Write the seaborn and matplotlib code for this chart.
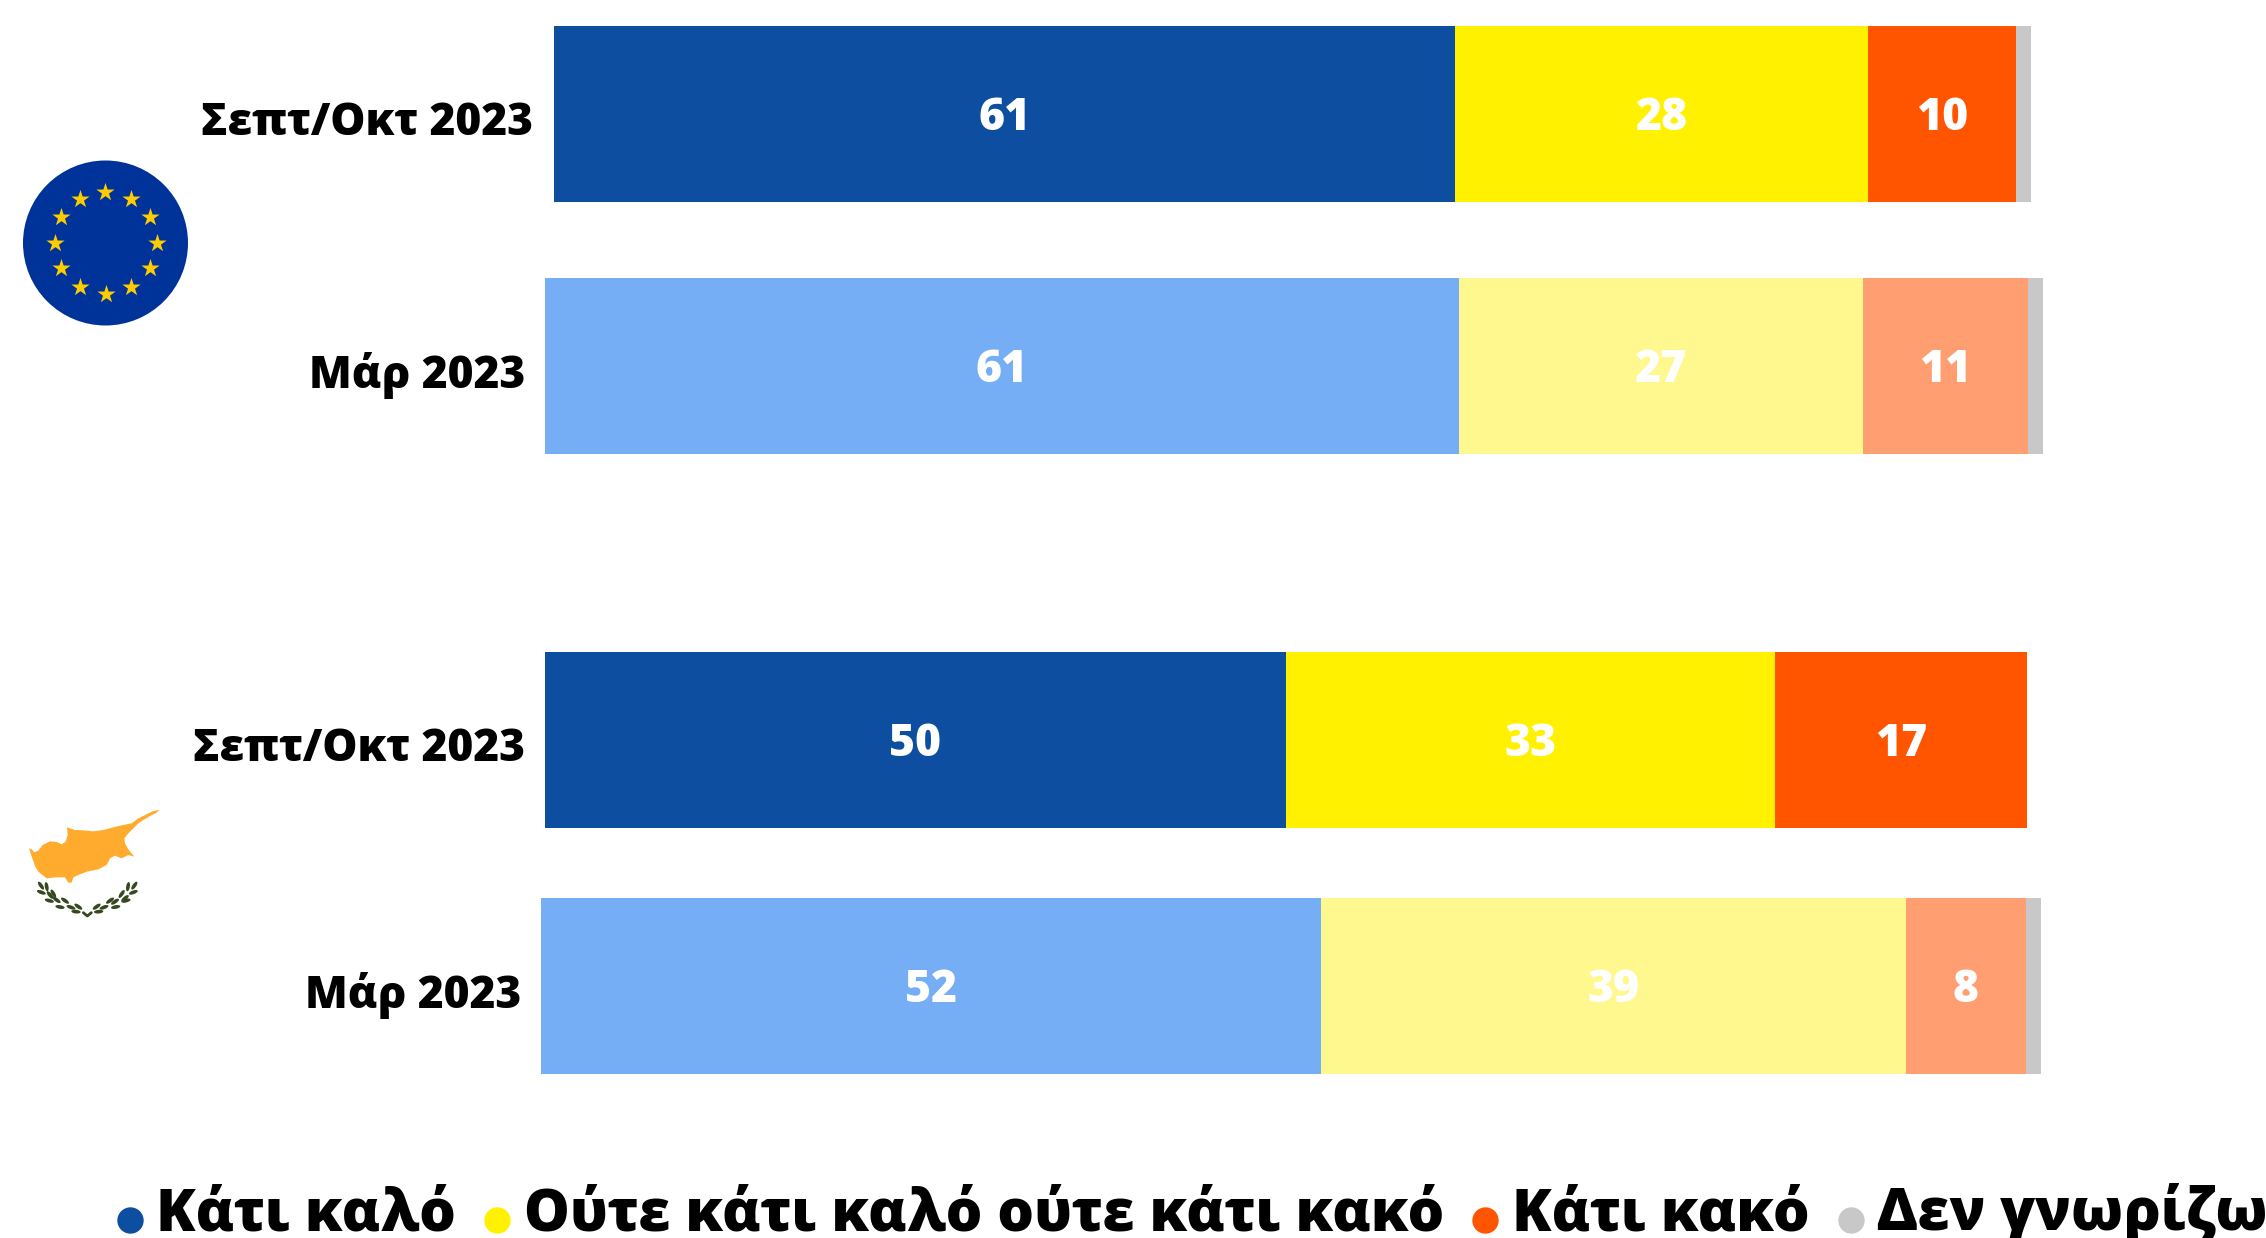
import numpy as np
import pandas as pd
import matplotlib
matplotlib.use("Agg")
import matplotlib.pyplot as plt
import seaborn as sns
from matplotlib.lines import Line2D
from matplotlib.patches import Circle, Ellipse, Polygon
from matplotlib.transforms import ScaledTranslation

# data, top bar to bottom bar
periods = ['Σεπτ/Οκτ 2023', 'Μάρ 2023', 'Σεπτ/Οκτ 2023', 'Μάρ 2023']
good = [61, 61, 50, 52]
neutral = [28, 27, 33, 39]
bad = [10, 11, 17, 8]
dont_know = [1, 1, 0, 1]
legend_labels = ['Κάτι καλό', 'Ούτε κάτι καλό ούτε κάτι κακό', 'Κάτι κακό', 'Δεν γνωρίζω']

# colours: [recent wave, March wave]
blues = ['#0D4EA1', '#75AEF5']
yellows = ['#FFF100', '#FFF88F']
oranges = ['#FF5500', '#FF9E71']
grey = '#C8C8C8'

W, H = 2266, 1238
sns.set_theme(style='white')
plt.rcParams['font.family'] = ['Open Sans', 'DejaVu Sans']

fig = plt.figure(figsize=(W / 100, H / 100), dpi=100, facecolor='white')


def px_axes(left, top, right, bottom):
    return fig.add_axes([left / W, 1 - bottom / H, (right - left) / W, (bottom - top) / H])


# every bar has its own slightly different extent in the original
bar_left = [553.5, 545, 545, 541]
bar_right = [2031, 2043, 2027, 2041]
bar_top = [26, 278, 652, 898]
bar_h = 176

for i, period in enumerate(periods):
    ax = px_axes(bar_left[i], bar_top[i], bar_right[i], bar_top[i] + bar_h)
    wave = i % 2
    df = pd.DataFrame({'period': [period],
                       'good': [good[i]], 'neutral': [neutral[i]],
                       'bad': [bad[i]], 'dk': [dont_know[i]]})
    left = 0
    for col, c in zip(['good', 'neutral', 'bad', 'dk'],
                      [blues[wave], yellows[wave], oranges[wave], grey]):
        sns.barplot(data=df, x=col, y='period', color=c, width=1, left=[left],
                    saturation=1, errorbar=None, ax=ax, linewidth=0)
        if col != 'dk':
            for t in ax.bar_label(ax.containers[-1], labels=[str(df[col][0])], label_type='center',
                                  color='white', fontsize=32, fontweight=800):
                t.xyann = (0, -3)
        left += df[col][0]
    ax.set_xlim(0, 100)
    ax.set_ylim(0.5, -0.5)
    ax.set_xlabel('')
    ax.set_ylabel('')
    ax.set_xticks([])
    ax.tick_params(axis='y', length=0, pad=14.4)
    for lab in ax.get_yticklabels():
        lab.set_fontsize(31.9)
        lab.set_fontweight(800)
        lab.set_color('black')
        lab.set_transform(lab.get_transform() + ScaledTranslation(0, -3 / 72, fig.dpi_scale_trans))
    sns.despine(ax=ax, left=True, bottom=True)

# legend
handles = [Line2D([], [], linestyle='none', marker='o', markersize=19, markeredgewidth=0, color=c)
           for c in [blues[0], yellows[0], oranges[0], grey]]
leg = fig.legend(handles, legend_labels, ncols=4, loc='lower left', bbox_to_anchor=(116.5 / W, -16.5 / H),
                 frameon=False, borderpad=0, borderaxespad=0, handlelength=0.455,
                 handletextpad=0.23, columnspacing=0.49, labelcolor='black',
                 prop={'weight': 800, 'size': 41.5})
for t in leg.get_texts():
    t.set_position((0, 10))

# EU emblem
eu = px_axes(0, 140, 300, 360)
eu.set_xlim(0, 300)
eu.set_ylim(220, 0)
eu.axis('off')
eu.add_patch(Circle((105.5, 103), 82.5, color='#003399', lw=0))
ang = np.deg2rad(np.arange(0, 360, 30))
eu.scatter(105.5 + 51 * np.cos(ang), 103 + 51 * np.sin(ang), marker='*', s=190, color='#FFCC00', lw=0)

# Cyprus emblem, outline traced from the flag
cy = px_axes(0, 790, 200, 940)
cy.set_xlim(0, 600)
cy.set_ylim(450, 0)
cy.axis('off')
island = [(87, 175), (95, 178), (103, 187), (115, 182), (128, 165), (150, 154), (170, 156), (185, 163),
          (197, 155), (203, 135), (201, 112), (210, 115), (225, 120), (250, 121), (280, 124), (310, 120),
          (340, 112), (370, 105), (395, 100), (415, 85), (430, 78), (445, 70), (460, 63), (478, 60),
          (470, 68), (450, 78), (430, 90), (415, 100), (400, 115), (385, 130), (373, 145), (375, 160),
          (385, 178), (403, 200), (385, 195), (365, 205), (345, 197), (330, 205), (320, 225), (295, 238),
          (260, 245), (235, 255), (220, 262), (215, 278), (205, 278), (195, 262), (170, 262), (140, 265),
          (115, 245), (105, 228), (97, 205)]
cy.add_patch(Polygon(island, closed=True, color='#FFAB2E', lw=0))
leaves = [(123, 287, 55), (140, 290, 80), (124, 307, 20), (150, 315, 50), (160, 311, 60), (148, 332, 15),
          (170, 330, 35), (195, 332, 35), (180, 351, 10), (213, 352, 20), (235, 350, 35), (228, 365, 5),
          (403, 287, 125), (384, 290, 100), (400, 307, 160), (365, 312, 125), (375, 325, 140), (378, 332, 165),
          (345, 335, 145), (330, 332, 145), (347, 351, 170), (312, 352, 160), (290, 350, 145), (296, 365, 175)]
for x, y, a in leaves:
    cy.add_patch(Ellipse((x, y), 28, 11, angle=a, color='#35481F', lw=0))
cy.plot([250, 262, 274], [368, 378, 368], color='#35481F', lw=2)

fig.savefig('out.png', dpi=100)
